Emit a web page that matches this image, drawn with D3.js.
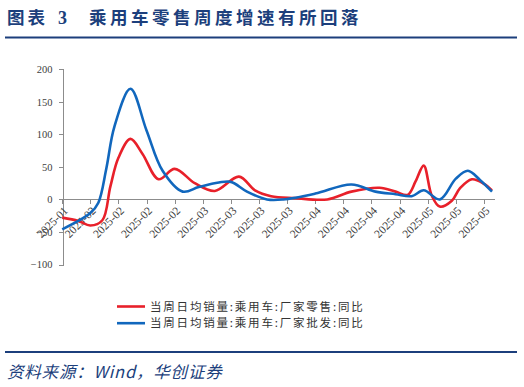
<!DOCTYPE html>
<html>
  <head>
    <meta charset="UTF-8" />
    <title>乘用车零售周度增速有所回落</title>
    <style>
      body,
      html {
        margin: 0;
        padding: 0;
        background: #fff;
        overflow: hidden;
      }
      svg {
        display: block;
      }
      .axis path,
      .axis line {
        stroke: #8c8c8c;
        stroke-width: 1px;
        shape-rendering: crispEdges;
      }
      .axis text {
        font-family: "Liberation Serif", "Times New Roman", serif;
        font-size: 10.5px;
        fill: #404040;
      }
      .x-axis text {
        font-size: 11.5px;
      }
      .series {
        fill: none;
        stroke-width: 2.6px;
      }
    </style>
  </head>
  <body>
    <svg id="chart"></svg>
    <script src="https://d3js.org/d3.v7.min.js"></script>
    <script>
      const width = 524;
      const height = 387;

      // data
      const retailDates = ["2025-01-30", "2025-02-03", "2025-02-06", "2025-02-09", "2025-02-11", "2025-02-13", "2025-02-16", "2025-02-19", "2025-02-23", "2025-02-27", "2025-03-04", "2025-03-09", "2025-03-15", "2025-03-19", "2025-03-23", "2025-03-29", "2025-04-06", "2025-04-12", "2025-04-19", "2025-04-23", "2025-04-26", "2025-04-28", "2025-04-30", "2025-05-02", "2025-05-04", "2025-05-07", "2025-05-09", "2025-05-12", "2025-05-15", "2025-05-17"];
      const retailValues = [-28, -33, -40, -32, 20, 64, 93, 70, 31, 47, 25, 13, 35, 14, 5, 2, 0, 12, 18, 12, 7, 28, 52, 6, -11, -2, 17, 31, 24, 14];

      const wholesaleDates = ["2025-01-30", "2025-02-06", "2025-02-08", "2025-02-10", "2025-02-12", "2025-02-16", "2025-02-20", "2025-02-24", "2025-03-01", "2025-03-05", "2025-03-10", "2025-03-13", "2025-03-17", "2025-03-22", "2025-03-26", "2025-04-03", "2025-04-12", "2025-04-18", "2025-04-23", "2025-04-27", "2025-04-30", "2025-05-04", "2025-05-08", "2025-05-11", "2025-05-14", "2025-05-17"];
      const wholesaleValues = [-46, -21, -5, 48, 112, 170, 106, 44, 12, 19, 26, 27, 12, 0, 0, 9, 23, 12, 8, 5, 14, 0, 32, 44, 30, 12];

      const tickLabels = ["2025-01", "2025-02", "2025-02", "2025-02", "2025-02", "2025-03", "2025-03", "2025-03", "2025-03", "2025-04", "2025-04", "2025-04", "2025-04", "2025-05", "2025-05", "2025-05"];
      const yTicks = [-100, -50, 0, 50, 100, 150, 200];

      const seriesNames = ["当周日均销量:乘用车:厂家零售:同比", "当周日均销量:乘用车:厂家批发:同比"];
      const seriesColors = ["#e8202a", "#1167bd"];

      const parse = d3.timeParse("%Y-%m-%d");
      const start = parse("2025-01-30");
      const end = d3.timeHour.offset(parse("2025-05-17"), 12);

      const svg = d3.select("#chart").attr("width", width).attr("height", height);
      const navy = "#1c3f7c";
      const cjk = "'Noto Sans CJK SC', sans-serif";

      // title and rules
      svg
        .append("text")
        .attr("x", 7)
        .attr("y", 24)
        .attr("font-family", cjk)
        .attr("font-weight", "bold")
        .attr("font-size", 17.5)
        .attr("letter-spacing", 3)
        .attr("fill", navy)
        .text("图表");
      svg
        .append("text")
        .attr("x", 58)
        .attr("y", 24)
        .attr("font-family", "'Liberation Serif', serif")
        .attr("font-weight", "bold")
        .attr("font-size", 18)
        .attr("fill", navy)
        .text("3");
      svg
        .append("text")
        .attr("x", 89)
        .attr("y", 24)
        .attr("font-family", cjk)
        .attr("font-weight", "bold")
        .attr("font-size", 17.5)
        .attr("letter-spacing", 3.5)
        .attr("fill", navy)
        .text("乘用车零售周度增速有所回落");
      svg.append("rect").attr("x", 5).attr("y", 36.5).attr("width", 512).attr("height", 2).attr("fill", navy);
      svg.append("rect").attr("x", 5).attr("y", 351).attr("width", 512).attr("height", 2).attr("fill", navy);

      svg
        .append("text")
        .attr("x", 7)
        .attr("y", 378)
        .attr("font-family", cjk)
        .attr("font-style", "italic")
        .attr("font-size", 16.5)
        .attr("letter-spacing", 0.8)
        .attr("fill", navy)
        .text("资料来源：Wind，华创证券");

      // scales
      const x = d3.scaleTime().domain([start, end]).range([62.2, 494]);
      const y = d3.scaleLinear().domain([-100, 200]).range([264.5, 69.3]);

      const tickDates = tickLabels.map((_, i) => d3.timeDay.offset(start, i * 7));

      // y axis
      svg
        .append("g")
        .attr("class", "axis")
        .attr("transform", "translate(62.5,0)")
        .call(d3.axisLeft(y).tickValues(yTicks).tickSize(4).tickPadding(6).tickFormat(d3.format("d")));

      // x axis on zero line
      const xAxis = svg
        .append("g")
        .attr("class", "axis x-axis")
        .attr("transform", `translate(0,${Math.round(y(0)) + 0.5})`)
        .call(
          d3
            .axisBottom(x)
            .tickValues(tickDates)
            .tickSize(4)
            .tickSizeOuter(0)
            .tickFormat((d, i) => tickLabels[i])
        );
      xAxis.select(".domain").attr("d", `M62.2,0H495`);
      xAxis
        .selectAll(".tick text")
        .attr("text-anchor", "end")
        .attr("transform", "translate(3,9) rotate(-45)")
        .attr("dy", "0.35em")
        .attr("y", 0)
        .attr("x", 0);

      // series
      const line = d3
        .line()
        .x((d) => x(d.date))
        .y((d) => y(d.value))
        .curve(d3.curveCatmullRom.alpha(0.5));

      const series = [
        retailDates.map((d, i) => ({ date: parse(d), value: retailValues[i] })),
        wholesaleDates.map((d, i) => ({ date: parse(d), value: wholesaleValues[i] })),
      ];

      svg
        .selectAll(".series")
        .data(series)
        .enter()
        .append("path")
        .attr("class", "series")
        .attr("d", line)
        .attr("stroke", (d, i) => seriesColors[i]);

      // legend
      const legend = svg
        .selectAll(".legend")
        .data(seriesNames)
        .enter()
        .append("g")
        .attr("class", "legend")
        .attr("transform", (d, i) => `translate(117,${306.5 + i * 16.7})`);
      legend
        .append("line")
        .attr("x1", 0)
        .attr("x2", 28)
        .attr("stroke", (d, i) => seriesColors[i])
        .attr("stroke-width", 2.6);
      legend
        .append("text")
        .attr("x", 33)
        .attr("dy", "0.36em")
        .attr("font-family", cjk)
        .attr("font-size", 11.5)
        .attr("letter-spacing", 1.8)
        .attr("fill", "#333")
        .text((d) => d);
    </script>
  </body>
</html>
